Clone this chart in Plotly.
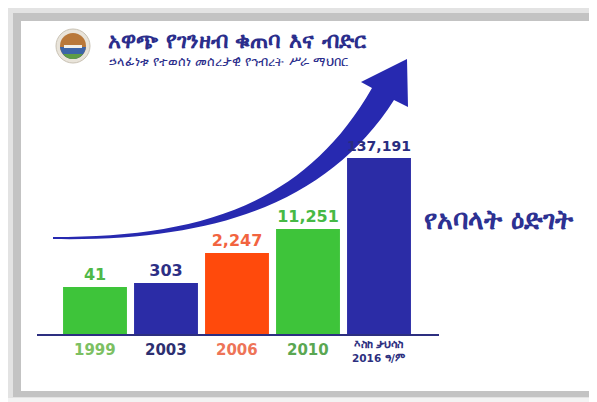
import plotly.graph_objects as go

# ---- data ----
categories = ["1999", "2003", "2006", "2010", "እስከ ታህሳስ<br>2016 ዓ/ም"]
members = [41, 303, 2247, 11251, 137191]
# pictorial bar heights as drawn in the infographic (not to scale)
bar_heights = [48, 52, 82, 106, 177]
bar_colors = ["#3ec43a", "#2b2ca6", "#ff4a0c", "#3ec43a", "#2b2ca6"]
value_colors = ["#4fb848", "#2d2f85", "#f2643f", "#47b945", "#2a2d80"]
tick_colors = ["#7cc062", "#2d2f70", "#ee7458", "#5aa752", "#2d3080"]
title_text = "አዋጭ የገንዘብ ቁጠባ እና ብድር"
subtitle_text = "ኃላፊነቱ የተወሰነ መሰረታዊ የኅብረት ሥራ ማህበር"
side_text = "የአባላት ዕድገት"

# page is 597x402; the browser puts the figure 8px in from the top-left corner
OFF = 8
W, H = 597 - OFF, 402 - OFF


def px(x):
    return (x - OFF) / W


def py(y):
    return 1 - (y - OFF) / H


def P(x, y):
    return f"{px(x):.5f},{py(y):.5f}"


fig = go.Figure()
fig.add_trace(go.Bar(
    x=list(range(len(categories))),
    y=bar_heights,
    marker=dict(color=bar_colors, line=dict(width=0)),
    text=[f"{v:,}" for v in members],
    textposition="outside",
    textfont=dict(family="DejaVu Sans", size=16, color=value_colors, weight="bold"),
    cliponaxis=False,
    hoverinfo="skip",
))

shapes = []
# frame / shadow
shapes.append(dict(type="rect", xref="paper", yref="paper", x0=px(0), x1=1, y0=0, y1=1,
                   fillcolor="#f3f3f3", line=dict(width=0), layer="below"))
shapes.append(dict(type="rect", xref="paper", yref="paper", x0=px(5), x1=1, y0=py(398), y1=py(5),
                   fillcolor="#e3e3e3", line=dict(width=0), layer="below"))
shapes.append(dict(type="rect", xref="paper", yref="paper", x0=px(13), x1=1, y0=py(397), y1=py(13),
                   fillcolor="#c3c3c3", line=dict(width=0), layer="below"))
shapes.append(dict(type="rect", xref="paper", yref="paper", x0=px(21), x1=1, y0=py(391), y1=py(21),
                   fillcolor="#ffffff", line=dict(width=0), layer="below"))

# arrow (decorative)
arrow_path = (
    f"M {P(53,237)} C {P(200,237)} {P(305,205)} {P(372,88)} "
    f"L {P(361,82)} L {P(407,59)} L {P(408,107)} L {P(394,100)} "
    f"C {P(330,200)} {P(220,242)} {P(53,239)} Z"
)
shapes.append(dict(type="path", xref="paper", yref="paper", path=arrow_path,
                   fillcolor="#2729b0", line=dict(width=0), layer="below"))

# baseline
shapes.append(dict(type="line", xref="paper", yref="paper", x0=px(37), x1=px(439), y0=py(335), y1=py(335),
                   line=dict(color="#2d2f80", width=2)))

# logo emblem
cx, cy, r = 73, 46, 17
shapes.append(dict(type="circle", xref="paper", yref="paper", x0=px(cx - r), x1=px(cx + r),
                   y0=py(cy + r), y1=py(cy - r), fillcolor="#e9e4da", line=dict(color="#c9c2b4", width=1)))
r2 = 13
shapes.append(dict(type="circle", xref="paper", yref="paper", x0=px(cx - r2), x1=px(cx + r2),
                   y0=py(cy + r2), y1=py(cy - r2), fillcolor="#b9783a", line=dict(width=0)))
shapes.append(dict(type="path", xref="paper", yref="paper",
                   path=f"M {P(cx-13,cy+1)} L {P(cx+13,cy+1)} C {P(cx+12,cy+9)} {P(cx+6,cy+13)} {P(cx,cy+13)} "
                        f"C {P(cx-6,cy+13)} {P(cx-12,cy+9)} {P(cx-13,cy+1)} Z",
                   fillcolor="#3c64a8", line=dict(width=0)))
shapes.append(dict(type="path", xref="paper", yref="paper",
                   path=f"M {P(cx-10,cy+8)} L {P(cx+10,cy+8)} C {P(cx+7,cy+12)} {P(cx+3,cy+13)} {P(cx,cy+13)} "
                        f"C {P(cx-3,cy+13)} {P(cx-7,cy+12)} {P(cx-10,cy+8)} Z",
                   fillcolor="#5e9c45", line=dict(width=0)))
shapes.append(dict(type="path", xref="paper", yref="paper",
                   path=f"M {P(cx-9,cy-1)} L {P(cx+9,cy-1)} L {P(cx+9,cy+2)} L {P(cx-9,cy+2)} Z",
                   fillcolor="#f1efe8", line=dict(width=0)))

annotations = []
annotations.append(dict(text=f"<b>{title_text}</b>", xref="paper", yref="paper", x=px(106), y=py(40),
                        xanchor="left", yanchor="middle", showarrow=False,
                        font=dict(family="DejaVu Sans", size=22, color="#2b2e8c")))
annotations.append(dict(text=subtitle_text, xref="paper", yref="paper", x=px(107), y=py(62),
                        xanchor="left", yanchor="middle", showarrow=False,
                        font=dict(family="DejaVu Sans", size=13, color="#2b2e8c")))
annotations.append(dict(text=f"<b>{side_text}</b>", xref="paper", yref="paper", x=px(422), y=py(220),
                        xanchor="left", yanchor="middle", showarrow=False,
                        font=dict(family="DejaVu Sans", size=27, color="#2d3192")))

for i, (lab, col) in enumerate(zip(categories, tick_colors)):
    last = "<br>" in lab
    annotations.append(dict(
        text=f"<b>{lab}</b>", xref="x", yref="paper", x=i, y=py(351 if last else 350),
        xanchor="center", yanchor="middle", showarrow=False,
        font=dict(family="DejaVu Sans", size=10.5 if last else 15, color=col),
    ))

fig.update_layout(
    width=W, height=H,
    margin=dict(l=0, r=0, t=0, b=0),
    paper_bgcolor="#f3f3f3",
    plot_bgcolor="rgba(0,0,0,0)",
    bargap=0.1,
    showlegend=False,
    shapes=shapes,
    annotations=annotations,
    xaxis=dict(domain=[px(59.5), px(414.5)], range=[-0.5, 4.5], showgrid=False, zeroline=False,
               showticklabels=False, showline=False, fixedrange=True),
    yaxis=dict(domain=[py(335), 1], range=[0, 335 - OFF], showgrid=False, zeroline=False,
               showticklabels=False, showline=False, fixedrange=True),
)

fig.write_html("out.html")
